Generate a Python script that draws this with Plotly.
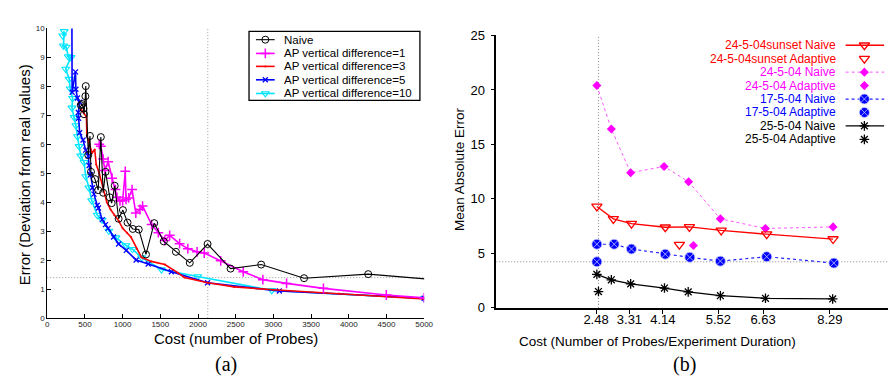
import plotly.graph_objects as go

# ---------------- DATA: panel (a) ----------------
naive_x = [445, 462, 480, 487, 506, 511, 545, 567, 580, 633, 676, 711, 742, 773, 830, 855, 895, 947, 1004,
           1065, 1135, 1214, 1310, 1419, 1546, 1707, 1891, 2127, 2432, 2838, 3407, 4258, 5500]
naive_y = [7.35, 7.39, 7.24, 7.04, 7.66, 8.01, 5.63, 6.29, 5.05, 4.80, 4.42, 6.25, 4.33, 5.05, 4.17, 3.97, 4.57,
           3.43, 3.73, 3.30, 3.08, 3.06, 2.20, 3.28, 2.65, 2.29, 1.91, 2.56, 1.71, 1.85, 1.38, 1.52, 1.25]

ap1_x = [690, 712, 742, 765, 808, 860, 905, 925, 965, 1000, 1035, 1045, 1080, 1125, 1175, 1230, 1265, 1385,
         1474, 1560, 1624, 1756, 1865, 1987, 2083, 2301, 2600, 2860, 3175, 3664, 4498, 5000]
ap1_y = [6.0, 5.93, 5.49, 5.1, 5.4, 4.83, 4.44, 4.17, 4.05, 4.05, 5.07, 4.1, 4.15, 4.44, 3.63, 3.75, 3.87, 3.23,
         2.95, 2.68, 2.86, 2.57, 2.40, 2.29, 2.25, 1.98, 1.60, 1.33, 1.20, 1.03, 0.80, 0.70]

ap3_x = [450, 480, 520, 525, 560, 595, 630, 650, 690, 740, 790, 840, 890, 950, 1000, 1060, 1110, 1190, 1250,
         1380, 1560, 1730, 1820, 2130, 2480, 3000, 3870, 5000]
ap3_y = [7.2, 7.1, 6.95, 6.3, 6.0, 5.7, 5.82, 5.3, 5.0, 4.45, 4.0, 3.75, 3.55, 3.35, 3.1, 2.95, 2.8, 2.4, 2.1,
         1.96, 1.85, 1.57, 1.4, 1.22, 1.08, 0.98, 0.85, 0.66]

ap5_x = [327, 330, 375, 380, 400, 430, 412, 415, 430, 475, 510, 545, 555, 575, 600, 620, 663, 680, 730, 773,
         807, 880, 947, 1048, 1179, 1340, 1646, 2127, 3079, 5000]
ap5_y = [10.5, 7.8, 8.5, 7.9, 7.6, 7.45, 7.1, 6.9, 6.4, 6.15, 5.8, 5.6, 5.27, 4.95, 4.5, 4.28, 3.9, 3.8, 3.4,
         3.23, 3.1, 2.8, 2.56, 2.34, 2.01, 1.87, 1.6, 1.22, 0.94, 0.69]

ap10_x = [205, 225, 215, 250, 280, 315, 245, 292, 305, 336, 328, 358, 380, 401, 423, 445, 489, 511, 554, 590,
          663, 729, 816, 912, 1043, 1131, 1253, 1515, 1996, 2978, 5000]
ap10_y = [9.75, 9.9, 9.4, 9.36, 9.03, 9.0, 8.6, 8.25, 7.92, 7.59, 7.26, 6.93, 6.65, 6.27, 5.93, 5.6, 5.38, 4.89,
          4.5, 4.06, 3.56, 3.39, 3.01, 2.78, 2.51, 2.38, 2.09, 1.68, 1.44, 0.96, 0.68]

a_ref_x = 2130
a_ref_y = 1.4
a_xticks = [0, 500, 1000, 1500, 2000, 2500, 3000, 3500, 4000, 4500, 5000]
a_yticks = [0, 1, 2, 3, 4, 5, 6, 7, 8, 9, 10]

# ---------------- DATA: panel (b) ----------------
sun_naive_x = [2.50, 2.91, 3.36, 4.20, 4.80, 5.59, 6.72, 8.37]
sun_naive_y = [9.31, 8.17, 7.73, 7.40, 7.43, 7.11, 6.76, 6.32]
sun_adapt_x = [4.55]
sun_adapt_y = [5.81]
mag_naive_x = [2.50, 2.86, 3.34, 4.17, 4.78, 5.57, 6.69, 8.37]
mag_naive_y = [20.41, 16.41, 12.40, 12.98, 11.57, 8.17, 7.29, 7.43]
mag_adapt_x = [4.90]
mag_adapt_y = [5.73]
blu_naive_x = [2.50, 2.93, 3.36, 4.20, 4.81, 5.57, 6.72, 8.39]
blu_naive_y = [5.84, 5.84, 5.40, 4.93, 4.64, 4.29, 4.70, 4.11]
blu_adapt_x = [2.50]
blu_adapt_y = [4.23]
blk_naive_x = [2.50, 2.86, 3.34, 4.18, 4.77, 5.57, 6.69, 8.36]
blk_naive_y = [3.08, 2.58, 2.20, 1.82, 1.47, 1.12, 0.88, 0.82]
blk_adapt_x = [2.54]
blk_adapt_y = [1.50]

b_ref_x = 2.54
b_ref_y = 4.23
b_xticks = [2.48, 3.31, 4.14, 5.52, 6.63, 8.29]
b_yticks = [0, 5, 10, 15, 20, 25]

# ---------------- FIGURE ----------------
W, H = 896, 378
FONT = "Liberation Sans, Arial, Helvetica, sans-serif"
DOT = "1px,2px"
fig = go.Figure()

def add(x, y, xa, ya, **kw):
    fig.add_trace(go.Scatter(x=x, y=y, xaxis=xa, yaxis=ya, showlegend=False, hoverinfo="skip", **kw))

# reference dotted lines (a)
add([a_ref_x, a_ref_x], [0, 10], "x", "y", mode="lines", line=dict(color="#999", width=1, dash=DOT))
add([0, 5000], [a_ref_y, a_ref_y], "x", "y", mode="lines", line=dict(color="#999", width=1, dash=DOT))

# panel (a) series
A = dict(
    naive=dict(color="black", width=1.1, symbol="circle-open", size=7, lw=1),
    ap1=dict(color="#ff00ff", width=1.6, symbol="cross-thin-open", size=7, lw=1.5),
    ap3=dict(color="#ff0000", width=1.6, symbol="circle", size=2, lw=0),
    ap5=dict(color="#0000ff", width=1.6, symbol="x-thin-open", size=5, lw=1.3),
    ap10=dict(color="#00e5ff", width=1.6, symbol="triangle-down-open", size=7, lw=1.1),
)
for key, xs, ys in [("ap10", ap10_x, ap10_y), ("ap5", ap5_x, ap5_y), ("ap3", ap3_x, ap3_y),
                    ("ap1", ap1_x, ap1_y), ("naive", naive_x, naive_y)]:
    s = A[key]
    add(xs, ys, "x", "y", mode="lines+markers",
        line=dict(color=s["color"], width=s["width"]),
        marker=dict(symbol=s["symbol"], size=s["size"], color=s["color"],
                    line=dict(color=s["color"], width=s["lw"])))

# panel (b) reference dotted lines
add([b_ref_x, b_ref_x], [0, 25], "x2", "y2", mode="lines", line=dict(color="#888", width=1, dash=DOT))
add([0, 10], [b_ref_y, b_ref_y], "x2", "y2", mode="lines", line=dict(color="#888", width=1, dash=DOT))

BLUE_MARK = dict(symbol="circle-x", size=10, color="#0000ff", line=dict(color="#c8c8ff", width=0.8))
B = dict(
    sunN=dict(x=sun_naive_x, y=sun_naive_y, mode="lines+markers", color="#ff0000",
              line=dict(color="#ff0000", width=1.3),
              marker=dict(symbol="triangle-down-open", size=9, color="#ff0000", line=dict(color="#ff0000", width=1.3))),
    sunA=dict(x=sun_adapt_x, y=sun_adapt_y, mode="markers", color="#ff0000",
              marker=dict(symbol="triangle-down-open", size=9, color="#ff0000", line=dict(color="#ff0000", width=1.3))),
    magN=dict(x=mag_naive_x, y=mag_naive_y, mode="lines+markers", color="#ff00ff",
              line=dict(color="#ff55ff", width=1, dash="dot"),
              marker=dict(symbol="diamond", size=7, color="#ff00ff")),
    magA=dict(x=mag_adapt_x, y=mag_adapt_y, mode="markers", color="#ff00ff",
              marker=dict(symbol="diamond", size=7, color="#ff00ff")),
    bluN=dict(x=blu_naive_x, y=blu_naive_y, mode="lines+markers", color="#0000ff",
              line=dict(color="#2222ff", width=1.2, dash="dot"), marker=BLUE_MARK),
    bluA=dict(x=blu_adapt_x, y=blu_adapt_y, mode="markers", color="#0000ff", marker=BLUE_MARK),
    blkN=dict(x=blk_naive_x, y=blk_naive_y, mode="lines+markers", color="black",
              line=dict(color="black", width=1.3),
              marker=dict(symbol="asterisk-open", size=8, color="black", line=dict(color="black", width=1.3))),
    blkA=dict(x=blk_adapt_x, y=blk_adapt_y, mode="markers", color="black",
              marker=dict(symbol="asterisk-open", size=8, color="black", line=dict(color="black", width=1.3))),
)
for k in ["magN", "magA", "sunN", "sunA", "bluN", "bluA", "blkN", "blkA"]:
    s = B[k]
    kw = dict(mode=s["mode"], marker=s["marker"])
    if "line" in s:
        kw["line"] = s["line"]
    add(s["x"], s["y"], "x2", "y2", cliponaxis=False, **kw)

# ---------------- custom legends on a pixel overlay ----------------
annotations = []
shapes = []
a_legend = [("Naive", "naive"), ("AP vertical difference=1", "ap1"), ("AP vertical difference=3", "ap3"),
            ("AP vertical difference=5", "ap5"), ("AP vertical difference=10", "ap10")]
rows_a = [25.7, 40, 53.5, 67.5, 81.7]
for (label, key), ry in zip(a_legend, rows_a):
    s = A[key]
    add([249, 268], [ry, ry], "x3", "y3", mode="lines", line=dict(color=s["color"], width=s["width"]))
    add([258.5], [ry], "x3", "y3", mode="markers",
        marker=dict(symbol=s["symbol"], size=s["size"], color=s["color"], line=dict(color=s["color"], width=s["lw"])))
    annotations.append(dict(x=275, y=ry, xref="x3", yref="y3", text=label, showarrow=False,
                            xanchor="left", yanchor="middle", font=dict(family=FONT, size=11.5, color="black")))
shapes.append(dict(type="rect", xref="x3", yref="y3", x0=242, x1=415, y0=17, y1=89,
                   line=dict(color="black", width=1.3)))

b_legend = [("24-5-04sunset Naive", "sunN"), ("24-5-04sunset Adaptive", "sunA"),
            ("24-5-04 Naive", "magN"), ("24-5-04 Adaptive", "magA"),
            ("17-5-04 Naive", "bluN"), ("17-5-04 Adaptive", "bluA"),
            ("25-5-04 Naive", "blkN"), ("25-5-04 Adaptive", "blkA")]
rows_b = [31.5 + 14 * i for i in range(8)]
for (label, key), ry in zip(b_legend, rows_b):
    s = B[key]
    if "line" in s:
        add([846, 885], [ry, ry], "x3", "y3", mode="lines", line=s["line"])
    add([865], [ry], "x3", "y3", mode="markers", marker=s["marker"])
    annotations.append(dict(x=838, y=ry, xref="x3", yref="y3", text=label, showarrow=False,
                            xanchor="right", yanchor="middle", font=dict(family=FONT, size=12, color=s["color"])))

# axis titles and captions
annotations += [
    dict(x=228.5, y=336.5, xref="x3", yref="y3", text="Cost (number of Probes)", showarrow=False,
         xanchor="center", yanchor="middle", font=dict(family=FONT, size=15, color="black")),
    dict(x=15, y=166, xref="x3", yref="y3", text="Error (Deviation from real values)", showarrow=False,
         textangle=-90, xanchor="center", yanchor="middle", font=dict(family=FONT, size=15, color="black")),
    dict(x=656, y=339.5, xref="x3", yref="y3", text="Cost (Number of Probes/Experiment Duration)", showarrow=False,
         xanchor="center", yanchor="middle", font=dict(family=FONT, size=13.5, color="black")),
    dict(x=455, y=160, xref="x3", yref="y3", text="Mean Absolute Error", showarrow=False,
         textangle=-90, xanchor="center", yanchor="middle", font=dict(family=FONT, size=13.5, color="black")),
    dict(x=219, y=364, xref="x3", yref="y3", text="(a)", showarrow=False,
         xanchor="center", yanchor="middle", font=dict(family="Liberation Serif, DejaVu Serif, serif", size=20, color="black")),
    dict(x=682.5, y=364, xref="x3", yref="y3", text="(b)", showarrow=False,
         xanchor="center", yanchor="middle", font=dict(family="Liberation Serif, DejaVu Serif, serif", size=20, color="black")),
]

fig.update_layout(
    width=W, height=H, margin=dict(l=0, r=0, t=0, b=0, pad=0),
    paper_bgcolor="white", plot_bgcolor="rgba(0,0,0,0)", showlegend=False,
    font=dict(family=FONT, color="black"),
    xaxis=dict(domain=[37.7 / W, 419.3 / W], range=[0, 5000], tickvals=a_xticks,
               showgrid=False, zeroline=False, showline=True, linecolor="black", linewidth=1,
               ticks="inside", ticklen=4, tickcolor="black", tickfont=dict(size=8, color="#222"),
               ticklabelstandoff=-2, anchor="y", fixedrange=True),
    yaxis=dict(domain=[1 - 315.7 / H, 1 - 14 / H], range=[0, 10], tickvals=a_yticks,
               showgrid=False, zeroline=False, showline=True, linecolor="black", linewidth=1,
               ticks="inside", ticklen=4, tickcolor="black", tickfont=dict(size=8, color="#222"),
               anchor="x", fixedrange=True),
    xaxis2=dict(domain=[492.3 / W, 1.0], range=[0, (W - 492.3) / 40.74], tickvals=b_xticks,
                ticktext=[f"{v:.2f}" for v in b_xticks],
                showgrid=False, zeroline=False, showline=True, linecolor="black", linewidth=1.5,
                ticks="outside", ticklen=4, tickcolor="black", tickfont=dict(size=13, color="black"),
                ticklabelstandoff=-5, anchor="y2", fixedrange=True),
    yaxis2=dict(domain=[1 - 305 / H, 1 - 21.3 / H], range=[0, 25], tickvals=b_yticks,
                showgrid=False, zeroline=False, showline=True, linecolor="black", linewidth=1.5,
                ticks="outside", ticklen=4, tickcolor="black", tickfont=dict(size=13, color="black"),
                ticklabelstandoff=3, anchor="x2", fixedrange=True),
    xaxis3=dict(domain=[0, 1], range=[0, W], visible=False, anchor="y3", fixedrange=True),
    yaxis3=dict(domain=[0, 1], range=[H, 0], visible=False, anchor="x3", fixedrange=True),
    annotations=annotations, shapes=shapes,
)

fig.write_html("out.html")
